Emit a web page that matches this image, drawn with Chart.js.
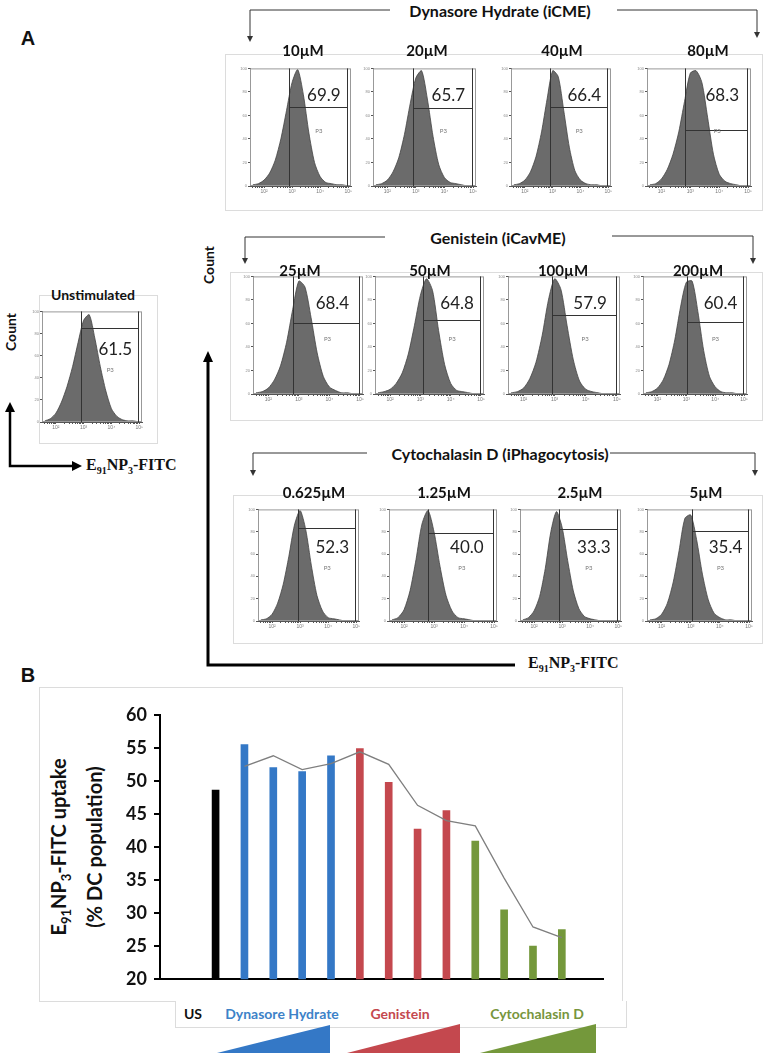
<!DOCTYPE html>
<html>
<head>
<meta charset="utf-8">
<script src="https://cdn.jsdelivr.net/npm/chart.js@4.4.1/dist/chart.umd.min.js"></script>
<style>
  body { margin: 0; width: 764px; height: 1053px; position: relative; overflow: hidden; background: #fff; font-family: Lato, "Open Sans", sans-serif; }
  .t { position: absolute; transform: translate(-50%, -50%); white-space: nowrap; font-weight: bold; color: #111; }
  .rot { transform: translate(-50%, -50%) rotate(-90deg); }
  .box { position: absolute; border: 1px solid #dcdcdc; box-sizing: border-box; }
  .serif { font-family: "Liberation Serif", "DejaVu Serif", serif; font-size: 16px; }
  .num { position: absolute; transform: translate(-50%, -50%); font-size: 17px; color: #222; white-space: nowrap; }
  .p3 { position: absolute; transform: translate(-50%, -50%); font-size: 6px; color: #777; }
  canvas { position: absolute; }
  svg { position: absolute; left: 0; top: 0; }
</style>
</head>
<body>

<!-- panel frames -->
<div class="box" style="left:225px;top:54px;width:538px;height:157px"></div>
<div class="box" style="left:230px;top:272px;width:533px;height:149px"></div>
<div class="box" style="left:233px;top:495px;width:530px;height:149px"></div>
<div class="box" style="left:39px;top:295px;width:119px;height:149px"></div>
<div class="box" style="left:39px;top:687px;width:584px;height:315px"></div>
<div class="box" style="left:175px;top:1001px;width:452px;height:27px;border-top:none;background:#fff"></div>

<svg width="764" height="1053">
  <g stroke="#333" stroke-width="1" fill="none">
    <polyline points="250,36 250,10 390,10"/>
    <polyline points="617,10 757,10 757,32"/>
    <polyline points="245,258 245,237 385,237"/>
    <polyline points="612,236 753,236 753,258"/>
    <polyline points="253,470 253,453 367,453"/>
    <polyline points="610,453 755,453 755,470"/>
  </g>
  <g fill="#333">
    <polygon points="247,36 253,36 250,42"/>
    <polygon points="754,32 760,32 757,38"/>
    <polygon points="242,258 248,258 245,264"/>
    <polygon points="750,258 756,258 753,264"/>
    <polygon points="250,470 256,470 253,476"/>
    <polygon points="752,470 758,470 755,476"/>
  </g>
  <polyline points="208,360 208,665 515,665" stroke="#000" stroke-width="3" fill="none"/>
  <polygon points="203,362 213,362 208,351" fill="#000"/>
  <polyline points="10,410 10,466 74,466" stroke="#000" stroke-width="2.5" fill="none"/>
  <polygon points="5,412 15,412 10,402" fill="#000"/>
  <polygon points="72,461 72,471 82,466" fill="#000"/>
  <polygon points="217,1053 330,1025 330,1053" fill="#3478c6"/>
  <polygon points="347,1053 460,1024 460,1053" fill="#c4484e"/>
  <polygon points="480,1053 596,1024 596,1053" fill="#74983b"/>
</svg>

<div class="t" style="left:28px;top:38px;font-family:'Liberation Sans',Arial,sans-serif;font-size:20px">A</div>
<div class="t" style="left:28px;top:675px;font-family:'Liberation Sans',Arial,sans-serif;font-size:20px">B</div>

<div class="t" style="left:500px;top:10px;font-size:16px">Dynasore Hydrate (iCME)</div>
<div class="t" style="left:498px;top:237px;font-size:16px">Genistein (iCavME)</div>
<div class="t" style="left:500px;top:453px;font-size:16px">Cytochalasin D (iPhagocytosis)</div>
<div class="t" style="left:93px;top:294px;font-size:14px">Unstimulated</div>

<div class="t rot" style="left:10px;top:332px;font-size:14px">Count</div>
<div class="t rot" style="left:208px;top:265px;font-size:14px">Count</div>
<div class="t serif" style="left:86px;top:466px;transform:translate(0,-50%)">E<sub style="font-size:10px">91</sub>NP<sub style="font-size:10px">3</sub>-FITC</div>
<div class="t serif" style="left:528px;top:664px;transform:translate(0,-50%)">E<sub style="font-size:10px">91</sub>NP<sub style="font-size:10px">3</sub>-FITC</div>

<div class="t rot" style="left:76px;top:847px;font-size:20px;line-height:28px;text-align:center">E<sub style="font-size:13px">91</sub>NP<sub style="font-size:13px">3</sub>-FITC uptake<br>(% DC population)</div>

<div class="t" style="left:193px;top:1013px;font-size:14px;color:#111">US</div>
<div class="t" style="left:282px;top:1013px;font-size:14px;color:#3d82c8">Dynasore Hydrate</div>
<div class="t" style="left:400px;top:1013px;font-size:14px;color:#c4484e">Genistein</div>
<div class="t" style="left:537px;top:1013px;font-size:14px;color:#77953c">Cytochalasin D</div>

<script>
// ---- panel A: histogram data (log10 fluorescence grid, % of max count) ----
const logGrid = [1.6, 1.8, 2.0, 2.2, 2.4, 2.6, 2.8, 3.0, 3.2, 3.4, 3.6, 3.8, 4.0, 4.2, 4.4, 4.6, 4.8, 5.0];

const unstimCounts = [1, 3, 8, 18, 32, 50, 72, 92, 97, 76, 50, 28, 12, 5, 2, 1, 1, 0];
const unstimPct = 61.5;
const unstimGateX = 2.90;
const unstimGateY = 85;

const dynasoreDoses = ["10µM", "20µM", "40µM", "80µM"];
const dynasorePct = [69.9, 65.7, 66.4, 68.3];
const dynasoreGateX = [2.89, 2.90, 2.90, 2.82];
const dynasoreGateY = [67, 66, 67, 48];
const dynasoreCounts = [
  [1, 2, 5, 11, 22, 40, 64, 88, 99, 78, 45, 20, 8, 3, 2, 1, 1, 0],
  [1, 2, 5, 12, 24, 44, 70, 92, 98, 74, 42, 18, 7, 3, 2, 1, 0, 0],
  [1, 2, 5, 12, 25, 46, 74, 98, 93, 64, 33, 13, 5, 2, 1, 1, 0, 0],
  [1, 2, 6, 14, 27, 46, 72, 96, 98, 88, 58, 27, 10, 4, 2, 1, 0, 0]
];

const genisteinDoses = ["25µM", "50µM", "100µM", "200µM"];
const genisteinPct = [68.4, 64.8, 57.9, 60.4];
const genisteinGateX = [2.81, 3.09, 2.91, 3.02];
const genisteinGateY = [60, 63, 67, 61];
const genisteinCounts = [
  [1, 2, 5, 12, 24, 44, 72, 96, 91, 65, 35, 15, 6, 3, 1, 1, 0, 0],
  [1, 2, 4, 9, 18, 34, 58, 84, 98, 88, 54, 25, 9, 3, 2, 1, 0, 0],
  [1, 2, 5, 13, 27, 50, 80, 98, 89, 58, 29, 11, 4, 2, 1, 0, 0, 0],
  [1, 2, 5, 12, 25, 46, 74, 95, 96, 70, 37, 15, 6, 2, 1, 1, 0, 0]
];

const cytoDoses = ["0.625µM", "1.25µM", "2.5µM", "5µM"];
const cytoPct = [52.3, 40.0, 33.3, 35.4];
const cytoGateX = [2.93, 2.80, 2.89, 3.04];
const cytoGateY = [83, 79, 82, 81];
const cytoCounts = [
  [1, 2, 6, 16, 33, 58, 86, 99, 82, 50, 23, 9, 3, 2, 1, 0, 0, 0],
  [1, 3, 10, 27, 55, 87, 99, 80, 49, 23, 9, 3, 2, 1, 0, 0, 0, 0],
  [1, 3, 9, 22, 47, 80, 98, 84, 54, 27, 11, 4, 2, 1, 0, 0, 0, 0],
  [1, 2, 6, 16, 35, 63, 92, 95, 73, 42, 19, 7, 3, 1, 1, 0, 0, 0]
];

// ---- panel B data ----
const uptakeGroups = ["US", "Dynasore Hydrate", "Genistein", "Cytochalasin D"];
const uptakeGroupOf = [0, 1, 1, 1, 1, 2, 2, 2, 2, 3, 3, 3, 3];
const uptakeValues = [48.6, 55.5, 52.0, 51.4, 53.8, 54.9, 49.8, 42.7, 45.5, 40.9, 30.5, 25.0, 27.5];
const trendValues = [null, 52.2, 53.8, 51.7, 52.6, 54.4, 52.5, 46.3, 44.0, 43.2, 35.3, 27.9, 26.3];
const uptakeTicks = [20, 25, 30, 35, 40, 45, 50, 55, 60];
const groupColors = ["#000000", "#3478c6", "#c4484e", "#74983b"];

const supDigits = { 2: "²", 3: "³", 4: "⁴", 5: "⁵" };

// gate + frame drawn in data space of each histogram
const gatePlugin = {
  id: "gate",
  afterDatasetsDraw(chart, args, opts) {
    const { ctx, chartArea: a, scales: { x, y } } = chart;
    ctx.save();
    ctx.strokeStyle = "#999";
    ctx.lineWidth = 1;
    ctx.strokeRect(a.left + 0.5, a.top + 0.5, a.width - 1, a.height - 1);
    const gx = Math.round(x.getPixelForValue(opts.x)) + 0.5;
    const gy = Math.round(y.getPixelForValue(opts.y)) + 0.5;
    const gr = Math.round(x.getPixelForValue(opts.right)) + 0.5;
    ctx.strokeStyle = "#333";
    ctx.beginPath();
    ctx.moveTo(gx, a.top); ctx.lineTo(gx, a.bottom);
    ctx.moveTo(gx, gy); ctx.lineTo(gr, gy);
    ctx.moveTo(gr, a.top); ctx.lineTo(gr, a.bottom);
    ctx.stroke();
    ctx.restore();
  }
};

const GATE_RIGHT = 4.96;

function drawHistogram(frame, counts, gateX, gateY, pct) {
  const [L, T, W, H] = frame;
  const padL = 12, padB = 10, padT = 1, padR = 3;
  const cv = document.createElement("canvas");
  cv.width = W + padL + padR;
  cv.height = H + padT + padB;
  cv.style.left = (L - padL) + "px";
  cv.style.top = (T - padT) + "px";
  document.body.appendChild(cv);

  const chart = new Chart(cv, {
    type: "line",
    data: {
      datasets: [{
        data: logGrid.map((v, i) => ({ x: v, y: counts[i] })),
        fill: "origin",
        backgroundColor: "#6b6b6b",
        borderColor: "#444",
        borderWidth: 0.8,
        pointRadius: 0,
        tension: 0.25
      }]
    },
    options: {
      responsive: false,
      animation: false,
      events: [],
      layout: { padding: { top: padT, right: padR, left: 0, bottom: 0 } },
      plugins: {
        legend: { display: false },
        tooltip: { enabled: false },
        gate: { x: gateX, y: gateY, right: GATE_RIGHT }
      },
      scales: {
        x: {
          type: "linear", min: 1.5, max: 5.1,
          afterFit: s => { s.height = padB; },
          afterBuildTicks: s => {
            const t = [];
            for (let e = 1; e <= 5; e++) {
              for (let m = 1; m <= 9; m++) {
                const v = e + Math.log10(m);
                if (v >= 1.5 && v <= 5.1) t.push({ value: v });
              }
            }
            s.ticks = t;
          },
          ticks: {
            autoSkip: false, maxRotation: 0, padding: 1,
            font: { size: 5 }, color: "#777",
            callback: v => Number.isInteger(v) ? "10" + supDigits[v] : ""
          },
          grid: { drawOnChartArea: false, tickLength: 2, color: "#555" },
          border: { color: "#555" }
        },
        y: {
          min: 0, max: 100,
          afterFit: s => { s.width = padL; },
          ticks: { stepSize: 20, padding: 1, font: { size: 4 }, color: "#888" },
          grid: { drawOnChartArea: false, tickLength: 2, color: "#555" },
          border: { color: "#555" }
        }
      }
    },
    plugins: [gatePlugin]
  });

  // percentage of the gated population and gate name, as page text
  const xs = chart.scales.x;
  const off = parseFloat(cv.style.left);
  const cx = off + xs.getPixelForValue(gateX + 0.6 * (GATE_RIGHT - gateX));
  const a = chart.chartArea;
  const top = T - padT + a.top;
  const cy = top + (gateY > 75 ? 0.33 : 0.22) * a.height;
  const n = document.createElement("div");
  n.className = "num";
  n.style.left = cx + "px";
  n.style.top = cy + "px";
  n.textContent = pct.toFixed(1);
  document.body.appendChild(n);
  const p = document.createElement("div");
  p.className = "p3";
  p.style.left = (cx - 5) + "px";
  p.style.top = (top + 0.52 * a.height) + "px";
  p.textContent = "P3";
  document.body.appendChild(p);
}

function doseLabel(text, x, y) {
  const d = document.createElement("div");
  d.className = "t";
  d.style.left = x + "px";
  d.style.top = y + "px";
  d.style.fontSize = "15px";
  d.textContent = text;
  document.body.appendChild(d);
}

// layout of the small plots: [left, top, width, height] of each plot area
const rowFrames = [
  [[250, 66, 101, 120], [373, 66, 103, 120], [511, 66, 100, 120], [647, 66, 104, 120]],
  [[253, 274, 110, 120], [375, 274, 109, 120], [508, 274, 112, 120], [643, 274, 104, 120]],
  [[258, 507, 101, 114], [389, 507, 108, 114], [520, 507, 101, 114], [647, 507, 105, 114]]
];
const rowLabelPos = [
  [[303, 50], [427, 50], [562, 50], [708, 50]],
  [[300, 270], [430, 270], [563, 270], [698, 270]],
  [[314, 492], [444, 492], [580, 492], [706, 492]]
];
const rows = [
  { doses: dynasoreDoses, counts: dynasoreCounts, gx: dynasoreGateX, gy: dynasoreGateY, pct: dynasorePct },
  { doses: genisteinDoses, counts: genisteinCounts, gx: genisteinGateX, gy: genisteinGateY, pct: genisteinPct },
  { doses: cytoDoses, counts: cytoCounts, gx: cytoGateX, gy: cytoGateY, pct: cytoPct }
];

drawHistogram([42, 309, 100, 113], unstimCounts, unstimGateX, unstimGateY, unstimPct);
rows.forEach((r, ri) => {
  r.doses.forEach((dose, i) => {
    drawHistogram(rowFrames[ri][i], r.counts[i], r.gx[i], r.gy[i], r.pct[i]);
    doseLabel(dose, rowLabelPos[ri][i][0], rowLabelPos[ri][i][1]);
  });
});

// ---- panel B ----
const cvB = document.createElement("canvas");
cvB.width = 512;
cvB.height = 300;
cvB.style.left = "96px";
cvB.style.top = "697px";
document.body.appendChild(cvB);

new Chart(cvB, {
  type: "bar",
  data: {
    datasets: [
      {
        type: "line",
        data: trendValues.map((v, i) => ({ x: i, y: v })),
        borderColor: "#7f7f7f",
        borderWidth: 1.3,
        pointRadius: 0,
        tension: 0,
        spanGaps: false,
        order: 0
      },
      {
        type: "bar",
        data: uptakeValues.map((v, i) => ({ x: i, y: v })),
        backgroundColor: uptakeGroupOf.map(g => groupColors[g]),
        barThickness: 7,
        order: 1
      }
    ]
  },
  options: {
    responsive: false,
    animation: false,
    events: [],
    layout: { padding: { top: 12, right: 5, left: 0, bottom: 0 } },
    plugins: { legend: { display: false }, tooltip: { enabled: false } },
    scales: {
      x: {
        type: "linear", min: -0.83, max: 12.33,
        ticks: { display: false },
        grid: { display: false },
        border: { color: "#000", width: 2 },
        afterFit: s => { s.height = 10; }
      },
      y: {
        min: 20, max: 60,
        afterBuildTicks: s => { s.ticks = uptakeTicks.map(v => ({ value: v })); },
        ticks: { color: "#111", padding: 7, font: { family: "Lato", size: 18, weight: "bold" } },
        grid: { drawOnChartArea: false, color: "#000", lineWidth: 2, tickLength: 6 },
        border: { color: "#000", width: 2 },
        afterFit: s => { s.width = 64; }
      }
    }
  }
});
</script>
</body>
</html>
